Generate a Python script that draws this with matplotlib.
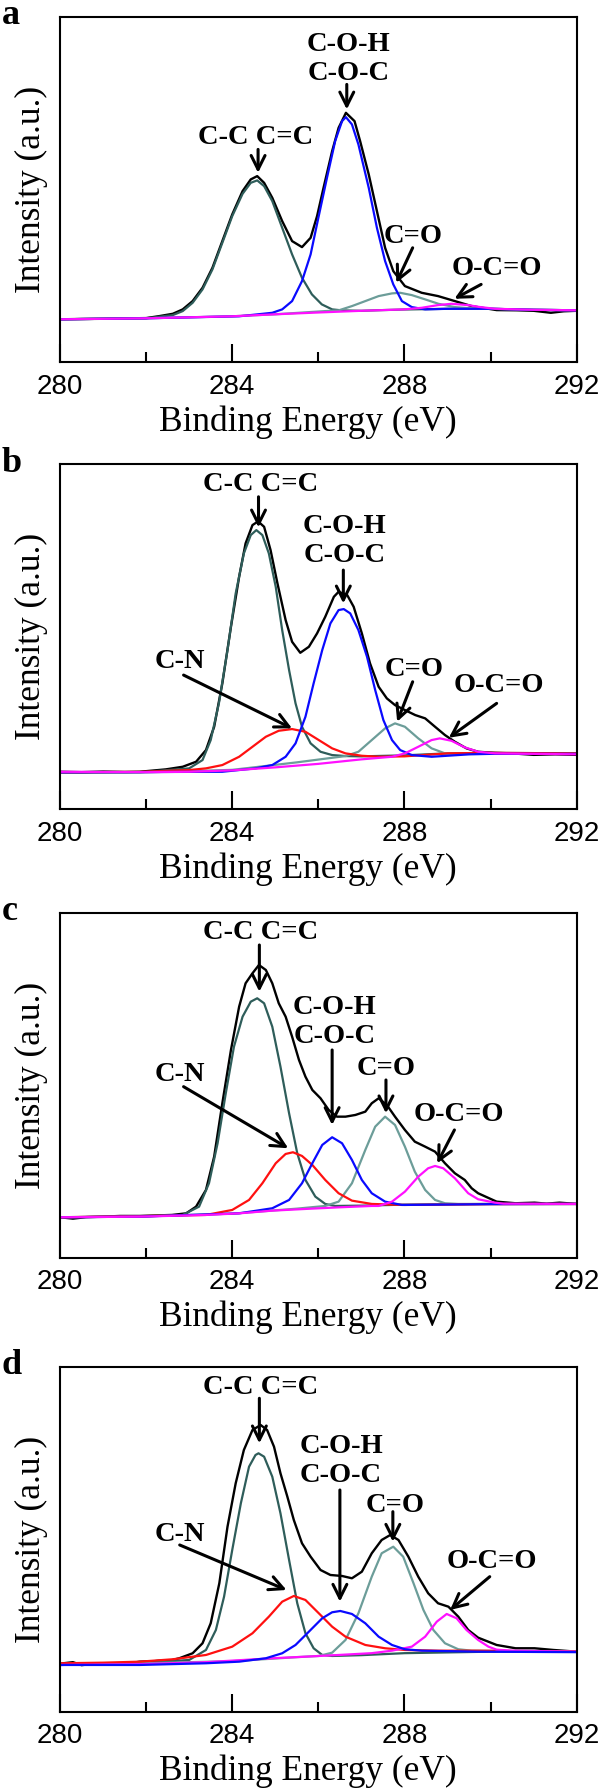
import matplotlib
matplotlib.use('Agg')
import matplotlib.pyplot as plt
from matplotlib import font_manager
from matplotlib.ticker import MultipleLocator

plt.rcParams['font.family'] = ['Liberation Serif', 'DejaVu Serif']

# narrow sans digits on the energy axis, if the narrow face is there
try:
    font_manager.findfont('Liberation Sans Narrow', fallback_to_default=False)
    TICK_FONT, TICK_SIZE = 'Liberation Sans Narrow', 22.5
except ValueError:
    TICK_FONT, TICK_SIZE = 'Liberation Sans', 20

# C 1s spectra, binding energy (eV) vs intensity (a.u.)

# ---- panel a ----
A_ENVELOPE = [(280.0, 42.5), (280.5, 42.8), (281.0, 43.0), (281.5, 43.4), (282.0, 43.7), (282.31, 45.7),
              (282.62, 48.0), (282.85, 52.4), (283.08, 60.7), (283.31, 74.0), (283.54, 94.0), (283.77, 120.7),
              (284.0, 147.4), (284.24, 170.7), (284.43, 182.4), (284.58, 185.7), (284.74, 179.0), (284.93, 164.0),
              (285.16, 140.7), (285.39, 120.7), (285.62, 114.7), (285.82, 124.0), (285.97, 145.7), (286.12, 174.0),
              (286.32, 210.7), (286.47, 234.0), (286.64, 249.0), (286.84, 240.7), (286.97, 220.7), (287.17, 187.4),
              (287.36, 150.7), (287.55, 114.0), (287.74, 90.7), (288.01, 75.7), (288.4, 69.0), (288.78, 65.7),
              (289.17, 60.7), (289.56, 55.7), (290.14, 51.7), (290.6, 51.5), (291.0, 51.0), (291.4, 49.0),
              (291.7, 50.5), (292.0, 51.0)]
A_CC = [(280.0, 42.5), (282.0, 43.5), (282.62, 46.7), (282.85, 50.7), (283.08, 59.0), (283.31, 72.4),
        (283.54, 92.4), (283.77, 119.0), (284.0, 145.7), (284.24, 168.0), (284.43, 179.0), (284.58, 181.4),
        (284.74, 175.7), (284.93, 160.7), (285.16, 134.0), (285.39, 107.4), (285.62, 84.0), (285.85, 67.4),
        (286.08, 57.4), (286.32, 52.4), (286.55, 51.4), (287.0, 51.0), (287.5, 51.7), (288.0, 52.3),
        (289.0, 53.0), (290.0, 53.0), (291.0, 52.0), (292.0, 51.5)]
A_CN = []
A_COC = [(280.0, 42.5), (282.0, 43.5), (284.16, 45.5), (284.93, 49.0), (285.16, 52.4), (285.39, 60.7),
         (285.62, 80.7), (285.82, 107.4), (286.0, 144.0), (286.2, 184.0), (286.39, 220.7), (286.55, 240.7),
         (286.64, 244.7), (286.78, 237.4), (286.93, 217.4), (287.17, 174.0), (287.36, 134.0), (287.55, 100.7),
         (287.74, 77.4), (287.94, 60.7), (288.17, 54.7), (288.48, 52.4), (289.0, 53.0), (290.0, 53.0),
         (291.0, 52.0), (292.0, 51.5)]
A_CO = [(280.0, 42.5), (282.0, 43.5), (284.0, 45.5), (285.0, 47.5), (286.16, 50.7), (286.47, 51.4),
        (286.78, 55.7), (287.09, 60.7), (287.4, 65.7), (287.71, 68.4), (287.9, 69.0), (288.17, 66.7),
        (288.48, 62.4), (288.79, 58.0), (289.17, 54.7), (289.56, 53.4), (290.0, 53.0), (291.0, 52.0),
        (292.0, 51.5)]
A_OCO = [(280.0, 42.5), (282.0, 43.5), (284.0, 45.5), (285.0, 47.5), (286.0, 49.3), (287.0, 51.0),
         (288.0, 52.4), (288.4, 54.0), (288.78, 56.7), (289.09, 58.0), (289.48, 56.7), (289.71, 55.0),
         (290.1, 53.0), (291.0, 52.0), (292.0, 51.5)]

# ---- panel b ----
B_ENVELOPE = [(280.0, 37.6), (280.5, 37.2), (281.0, 37.8), (281.5, 37.4), (281.85, 37.6), (282.46, 40.0),
              (282.85, 42.6), (283.16, 47.6), (283.39, 59.3), (283.58, 82.6), (283.77, 126.0), (283.97, 182.6),
              (284.16, 232.6), (284.31, 266.0), (284.47, 284.3), (284.6, 288.0), (284.74, 282.6), (284.89, 259.3),
              (285.05, 226.0), (285.24, 189.3), (285.39, 167.6), (285.58, 156.6), (285.78, 162.6), (285.97, 176.0),
              (286.16, 192.6), (286.36, 212.6), (286.47, 217.6), (286.67, 214.3), (286.82, 202.6), (287.01, 176.0),
              (287.2, 146.0), (287.4, 122.6), (287.59, 111.0), (287.78, 104.3), (288.01, 99.3), (288.25, 94.3),
              (288.48, 91.0), (288.71, 82.6), (288.94, 74.3), (289.17, 67.6), (289.44, 61.0), (289.71, 57.6),
              (290.1, 56.5), (290.5, 56.0), (291.0, 54.5), (291.5, 55.0), (292.0, 54.5)]
B_CC = [(280.0, 37.0), (281.85, 37.0), (283.0, 41.0), (283.31, 49.3), (283.5, 69.3), (283.69, 106.0),
        (283.89, 159.3), (284.08, 216.0), (284.27, 256.0), (284.43, 274.3), (284.56, 279.3), (284.7, 274.3),
        (284.85, 256.0), (285.01, 222.6), (285.16, 179.3), (285.32, 139.3), (285.47, 106.0), (285.62, 82.6),
        (285.82, 66.0), (286.05, 57.6), (286.32, 54.3), (286.63, 53.3), (287.0, 53.0), (288.0, 54.0),
        (289.0, 56.0), (290.0, 56.5), (292.0, 56.0)]
B_CN = [(280.0, 37.0), (281.85, 37.5), (283.0, 39.3), (283.39, 41.0), (283.77, 44.3), (284.16, 52.6),
        (284.47, 62.6), (284.78, 72.6), (285.08, 78.6), (285.39, 80.3), (285.7, 77.6), (286.01, 69.3),
        (286.32, 61.0), (286.63, 56.0), (287.01, 53.6), (287.4, 52.6), (288.0, 53.0), (289.0, 56.0),
        (290.0, 56.5), (292.0, 56.0)]
B_COC = [(280.0, 37.0), (283.77, 37.6), (284.54, 41.0), (284.93, 44.3), (285.24, 52.6), (285.47, 66.0),
         (285.7, 92.6), (285.89, 126.0), (286.09, 159.3), (286.28, 186.0), (286.47, 199.3), (286.59, 200.3),
         (286.74, 196.0), (286.93, 179.3), (287.13, 152.6), (287.32, 119.3), (287.51, 89.3), (287.71, 69.3),
         (287.9, 59.3), (288.17, 54.3), (288.63, 52.6), (289.5, 55.0), (290.0, 55.5), (292.0, 55.5)]
B_CO = [(280.0, 37.0), (282.0, 37.0), (284.0, 39.5), (285.5, 47.0), (286.63, 53.3), (286.93, 57.6),
        (287.24, 69.3), (287.55, 81.0), (287.78, 86.0), (288.01, 82.6), (288.32, 71.0), (288.63, 61.0),
        (288.94, 56.0), (289.25, 55.5), (289.6, 55.5), (290.0, 56.0), (292.0, 56.0)]
B_OCO = [(280.0, 37.6), (282.0, 37.2), (283.0, 37.6), (284.0, 39.0), (285.0, 42.0), (286.0, 45.5),
         (287.0, 50.0), (287.71, 52.6), (288.01, 56.0), (288.32, 62.6), (288.63, 69.3), (288.82, 71.0),
         (289.09, 68.6), (289.4, 62.0), (289.71, 57.6), (290.1, 56.0), (291.0, 55.5), (292.0, 55.0)]

# ---- panel c ----
C_ENVELOPE = [(280.0, 40.4), (280.3, 39.0), (280.6, 40.5), (281.0, 41.0), (281.4, 41.7), (281.85, 41.7),
              (282.6, 42.7), (282.93, 44.3), (283.16, 51.0), (283.39, 67.7), (283.58, 101.0), (283.77, 154.4),
              (283.97, 207.7), (284.16, 251.0), (284.31, 274.4), (284.47, 284.4), (284.62, 292.7), (284.78, 287.7),
              (284.93, 274.4), (285.08, 254.4), (285.24, 241.0), (285.39, 221.0), (285.55, 197.7), (285.7, 181.0),
              (285.86, 167.7), (286.05, 159.4), (286.24, 147.7), (286.43, 141.0), (286.63, 141.0), (286.86, 142.7),
              (287.09, 146.0), (287.24, 154.4), (287.4, 159.4), (287.59, 152.7), (287.78, 141.0), (288.01, 127.7),
              (288.24, 116.0), (288.48, 111.0), (288.71, 106.0), (288.94, 94.4), (289.17, 84.4), (289.4, 77.7),
              (289.56, 69.4), (289.71, 64.4), (290.14, 56.0), (290.58, 54.4), (291.02, 55.0), (291.3, 54.0),
              (291.6, 55.0), (292.0, 53.7)]
C_CC = [(280.0, 40.4), (281.85, 41.0), (282.85, 42.7), (283.23, 51.0), (283.46, 74.4), (283.66, 114.4),
        (283.85, 164.4), (284.04, 211.0), (284.24, 241.0), (284.43, 256.0), (284.58, 259.4), (284.74, 254.4),
        (284.93, 231.0), (285.12, 191.0), (285.32, 144.4), (285.51, 104.4), (285.7, 77.7), (285.93, 61.0),
        (286.16, 53.7), (286.39, 51.7), (287.0, 52.0), (288.0, 53.0), (290.0, 53.7), (292.0, 53.7)]
C_CN = [(280.0, 40.4), (281.85, 41.5), (283.39, 42.7), (284.0, 47.7), (284.39, 57.7), (284.7, 74.4),
        (285.01, 94.4), (285.24, 103.7), (285.41, 105.4), (285.62, 101.7), (285.86, 92.7), (286.16, 77.7),
        (286.47, 64.4), (286.78, 57.0), (287.24, 53.7), (288.01, 52.7), (290.0, 53.5), (292.0, 53.7)]
C_COC = [(280.0, 40.4), (281.85, 41.0), (284.16, 44.3), (284.93, 49.4), (285.32, 57.7), (285.62, 74.4),
         (285.86, 94.4), (286.09, 112.7), (286.32, 120.4), (286.55, 114.4), (286.78, 97.7), (287.01, 77.7),
         (287.24, 64.4), (287.55, 56.0), (287.94, 52.7), (290.0, 53.5), (292.0, 53.7)]
C_CO = [(280.0, 40.4), (282.0, 41.5), (284.0, 44.0), (285.5, 49.0), (286.16, 51.7), (286.47, 56.0),
        (286.78, 74.4), (287.09, 107.7), (287.32, 131.0), (287.55, 141.0), (287.78, 132.7), (288.01, 111.0),
        (288.24, 86.0), (288.48, 67.7), (288.71, 57.7), (288.94, 54.4), (289.25, 53.7), (292.0, 53.7)]
C_OCO = [(280.0, 40.4), (281.85, 41.0), (283.39, 42.7), (284.16, 44.3), (284.93, 47.0), (285.7, 48.7),
         (286.47, 50.3), (287.24, 51.7), (287.4, 51.7), (287.71, 56.0), (288.01, 66.0), (288.32, 81.0),
         (288.55, 89.4), (288.71, 91.7), (288.9, 89.4), (289.17, 79.4), (289.48, 64.4), (289.71, 58.4),
         (290.1, 55.0), (290.3, 54.0), (292.0, 53.7)]

# ---- panel d ----
D_ENVELOPE = [(280.0, 48.0), (280.3, 49.5), (280.5, 46.5), (280.8, 48.0), (281.2, 48.5), (281.5, 47.5),
              (281.85, 50.0), (282.2, 50.5), (282.31, 51.0), (282.5, 50.5), (282.77, 53.4), (283.08, 58.4),
              (283.31, 68.4), (283.5, 88.4), (283.7, 128.4), (283.89, 185.0), (284.08, 228.4), (284.27, 261.7),
              (284.47, 281.7), (284.66, 286.7), (284.81, 281.7), (284.97, 265.0), (285.12, 238.4), (285.28, 215.0),
              (285.43, 191.7), (285.62, 168.4), (285.82, 155.0), (286.05, 141.7), (286.28, 136.7), (286.55, 135.7),
              (286.78, 133.4), (287.01, 140.0), (287.24, 158.4), (287.47, 171.7), (287.67, 176.7), (287.86, 171.7),
              (288.09, 155.0), (288.32, 135.0), (288.55, 118.4), (288.78, 108.4), (289.02, 105.0), (289.25, 95.0),
              (289.48, 81.7), (289.71, 74.0), (290.14, 66.7), (290.58, 63.4), (291.02, 63.4), (291.46, 61.7),
              (292.0, 60.0)]
D_CC = [(280.0, 46.7), (281.85, 48.4), (283.0, 51.7), (283.39, 61.7), (283.62, 81.7), (283.81, 115.0),
        (284.0, 161.7), (284.2, 208.4), (284.39, 245.0), (284.54, 256.7), (284.61, 258.4), (284.74, 255.0),
        (284.93, 235.0), (285.12, 198.4), (285.32, 151.7), (285.51, 108.4), (285.7, 78.4), (285.89, 63.4),
        (286.09, 56.7), (286.32, 55.7), (287.0, 56.5), (288.0, 58.5), (290.0, 60.0), (292.0, 60.0)]
D_CN = [(280.0, 48.4), (281.0, 49.0), (281.85, 50.0), (282.62, 52.4), (283.39, 56.7), (284.0, 65.0),
        (284.47, 78.4), (284.85, 95.0), (285.16, 110.0), (285.43, 115.7), (285.7, 111.7), (286.01, 98.4),
        (286.32, 85.0), (286.63, 75.0), (287.09, 66.7), (287.55, 63.4), (288.01, 61.7), (288.79, 61.0),
        (289.71, 61.0), (292.0, 60.0)]
D_COC = [(280.0, 46.7), (281.85, 46.7), (283.39, 48.4), (284.16, 50.0), (284.78, 53.4), (285.16, 58.4),
         (285.47, 66.7), (285.78, 80.0), (286.09, 93.4), (286.32, 99.4), (286.51, 100.7), (286.78, 97.7),
         (287.09, 88.4), (287.4, 75.0), (287.71, 66.7), (288.01, 62.4), (288.4, 61.0), (289.71, 60.0),
         (292.0, 59.5)]
D_CO = [(280.0, 46.7), (282.0, 48.5), (284.0, 50.5), (285.5, 54.5), (286.01, 55.7), (286.32, 59.0),
        (286.63, 71.7), (286.93, 98.4), (287.24, 135.0), (287.47, 158.4), (287.74, 165.0), (287.97, 155.0),
        (288.21, 128.4), (288.44, 101.7), (288.67, 81.7), (288.94, 68.4), (289.25, 62.4), (289.56, 61.0),
        (292.0, 60.0)]
D_OCO = [(280.0, 46.7), (281.85, 47.5), (283.39, 49.5), (284.93, 53.4), (285.7, 55.0), (286.47, 56.7),
         (287.24, 58.5), (287.71, 61.0), (288.17, 65.0), (288.48, 75.0), (288.75, 90.0), (288.98, 97.7),
         (289.21, 93.4), (289.44, 81.7), (289.71, 71.7), (289.95, 65.0), (290.14, 62.0), (290.5, 61.0),
         (292.0, 60.0)]

PANEL_LETTERS = ['a', 'b', 'c', 'd']
X_TICKS = [280, 284, 288, 292]

COLORS = {'env': 'black', 'cc': '#2e5d5a', 'cn': '#ff1010', 'coc': '#0a0aff',
          'co': '#6c9d99', 'oco': '#ff10ff'}

# label text, text position (eV, y), arrow tail, arrow tip
NOTES = {
    'a': [('C-C C=C', (284.55, 224.7), (284.6, 212.4), (284.6, 189.0)),
          ('C-O-H\nC-O-C', (286.70, 303.0), (286.66, 277.4), (286.66, 252.4)),
          ('C=O', (288.19, 124.9), (288.19, 114.0), (287.81, 79.0)),
          ('O-C=O', (290.14, 93.2), (289.78, 77.4), (289.16, 63.0))],
    'b': [('C-C C=C', (284.66, 325.0), (284.61, 312.6), (284.61, 282.0)),
          ('C-O-H\nC-O-C', (286.61, 268.5), (286.58, 239.3), (286.58, 206.0)),
          ('C-N', (282.79, 147.6), (282.87, 134.3), (285.39, 81.0)),
          ('C=O', (288.23, 140.0), (288.19, 127.6), (287.83, 87.6)),
          ('O-C=O', (290.2, 123.5), (290.14, 106.0), (289.03, 71.6))],
    'c': [('C-C C=C', (284.66, 325.2), (284.63, 312.7), (284.63, 266.0)),
          ('C-O-H\nC-O-C', (286.37, 235.6), (286.32, 207.7), (286.32, 132.7)),
          ('C-N', (282.79, 182.7), (282.87, 171.0), (285.3, 109.4)),
          ('C=O', (287.57, 188.7), (287.57, 177.7), (287.57, 144.4)),
          ('O-C=O', (289.27, 142.7), (289.16, 127.7), (288.76, 94.4))],
    'd': [('C-C C=C', (284.66, 324.2), (284.63, 313.4), (284.63, 268.4)),
          ('C-O-H\nC-O-C', (286.53, 250.9), (286.5, 221.7), (286.5, 110.0)),
          ('C-N', (282.78, 176.7), (282.78, 166.7), (285.26, 121.7)),
          ('C=O', (287.79, 205.9), (287.73, 200.0), (287.73, 170.0)),
          ('O-C=O', (290.02, 150.0), (289.98, 135.0), (289.06, 101.7))],
}


def split(points):
    return [p[0] for p in points], [p[1] for p in points]


def draw_panel(ax, curves, top_key, letter):
    # envelope first, then components; the component named top_key goes last
    order = ['env', 'cc', 'co', 'cn', 'coc', 'oco']
    order.remove(top_key)
    order.append(top_key)
    for key in order:
        pts = curves.get(key)
        if not pts:
            continue
        x, y = split(pts)
        ax.plot(x, y, color=COLORS[key], lw=1.7 if key == 'env' else 1.6, solid_joinstyle='round')

    ax.set_xlim(280, 292)
    ax.set_ylim(0, 345)
    ax.set_xticks(X_TICKS)
    ax.xaxis.set_minor_locator(MultipleLocator(2))
    ax.set_yticks([])
    ax.tick_params(axis='x', which='major', direction='in', length=13, width=1.5, pad=8.5,
                   labelsize=TICK_SIZE, top=False)
    ax.tick_params(axis='x', which='minor', direction='in', length=7, width=1.5, top=False)
    for lab in ax.get_xticklabels():
        lab.set_family([TICK_FONT, 'DejaVu Sans'])
    for sp in ax.spines.values():
        sp.set_linewidth(1.5)

    ax.text(-0.0548, 0.5, 'Intensity (a.u.)', transform=ax.transAxes, rotation=90,
            ha='center', va='center', fontsize=25.5)
    ax.text(0.479, -0.174, 'Binding Energy (eV)', transform=ax.transAxes,
            ha='center', va='center', fontsize=25.5)
    ax.text(-0.113, 0.978, letter, transform=ax.transAxes, ha='left', va='baseline',
            fontsize=26, fontweight='bold')

    for label, txt_pos, tail, tip in NOTES[letter]:
        ax.text(txt_pos[0], txt_pos[1], label, ha='center', va='center', fontsize=20.5,
                fontweight='bold', linespacing=1.2)
        ax.annotate('', xy=tip, xytext=tail,
                    arrowprops=dict(arrowstyle='->,head_length=0.5,head_width=0.25',
                                    lw=2.2, color='black', shrinkA=0, shrinkB=0,
                                    mutation_scale=20))


fig = plt.figure(figsize=(6.0, 17.91), dpi=100)

panels = [
    ({'env': A_ENVELOPE, 'cc': A_CC, 'cn': A_CN, 'coc': A_COC, 'co': A_CO, 'oco': A_OCO}, 'oco'),
    ({'env': B_ENVELOPE, 'cc': B_CC, 'cn': B_CN, 'coc': B_COC, 'co': B_CO, 'oco': B_OCO}, 'oco'),
    ({'env': C_ENVELOPE, 'cc': C_CC, 'cn': C_CN, 'coc': C_COC, 'co': C_CO, 'oco': C_OCO}, 'oco'),
    ({'env': D_ENVELOPE, 'cc': D_CC, 'cn': D_CN, 'coc': D_COC, 'co': D_CO, 'oco': D_OCO}, 'coc'),
]
bottoms = [0.7980, 0.5481, 0.2978, 0.0443]

for (curves, top_key), bottom, letter in zip(panels, bottoms, PANEL_LETTERS):
    ax = fig.add_axes([0.1, bottom, 0.8612, 0.1926])
    draw_panel(ax, curves, top_key, letter)

fig.savefig('out.png', dpi=100)
